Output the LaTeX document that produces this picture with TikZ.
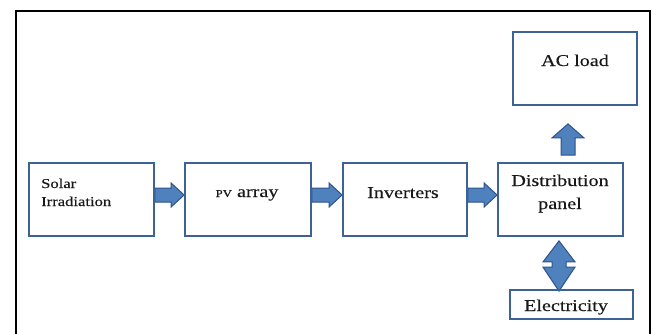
\documentclass[tikz,border=0pt]{standalone}
\usepackage{fontspec}
\setmainfont{Liberation Serif}[FakeStretch=1.22,FakeBold=0.3]
\usetikzlibrary{calc,backgrounds}
\definecolor{boxline}{RGB}{60,98,150}
\definecolor{arrowfill}{RGB}{79,129,189}
\definecolor{arrowline}{RGB}{47,82,143}
\definecolor{ink}{RGB}{25,25,25}
\tikzset{
  block/.style={draw=boxline, line width=1.8pt, minimum height=73pt, inner sep=0pt},
  blockarrow/.style={fill=arrowfill, draw=arrowline, line width=1pt, line join=miter},
  txt/.style={font=\fontsize{16.5}{19}\selectfont, text=ink, inner sep=0pt, anchor=base},
  smalltxt/.style={font=\fontsize{13.6}{16}\selectfont, text=ink, inner sep=0pt, anchor=base west},
  frame/.style={draw=black, line width=2pt}
}
% horizontal block arrow from the east side of #1 to the west side of #2
\newcommand\rightblock[2]{%
  \draw[blockarrow] ($(#1.east)+(0,-11.5)$) -- ($(#2.west)+(-13,-11.5)$)
    -- ($(#2.west)+(-13,-16.5)$) -- ($(#2.west)+(0,-4.5)$)
    -- ($(#2.west)+(-13,7.5)$) -- ($(#2.west)+(-13,2.5)$)
    -- ($(#1.east)+(0,2.5)$) -- cycle;}
\begin{document}
\begin{tikzpicture}[x=1pt,y=-1pt]
\useasboundingbox (0,0) rectangle (654,333);
% open outer frame
\draw[frame] (16,335) -- (16,11) -- (650,11) -- (650,335);

% blocks
\node[block, minimum width=125pt] (solar) at (91.5,199.5) {};
\node[block, minimum width=126pt] (pv) at (248,199.5) {};
\node[block, minimum width=124pt] (inv) at (405,199.5) {};
\node[block, minimum width=125pt] (dist) at (560.5,199.5) {};
\node[block, minimum width=124pt] (ac) at (575,68.5) {};
\node[block, minimum width=123pt, minimum height=29pt] (elec) at (571.5,304.5) {};

% labels
\node[smalltxt] (solarA) at (41,188) {Solar};
\node[smalltxt] (solarB) at (41,206) {Irradiation};
\node[txt] (pvT) at (247,197) {{\fontsize{10.5}{12}\selectfont PV} array};
\node[txt] (invT) at (403,198) {Inverters};
\node[txt] (distA) at (560,186) {Distribution};
\node[txt] (distB) at (560,209) {panel};
\node[txt] (acT) at (575,66) {AC load};
\node[txt] (elecT) at (566,311) {Electricity};

% block arrows
\begin{scope}[on background layer]
\rightblock{solar}{pv}
\rightblock{pv}{inv}
\rightblock{inv}{dist}
% upward arrow to the AC load
\draw[blockarrow] ($(dist.north)+(0.5,-7)$) -- ($(dist.north)+(14.5,-7)$)
  -- ($(dist.north |- ac.south)+(14.5,32)$) -- ($(dist.north |- ac.south)+(23.5,32)$)
  -- ($(dist.north |- ac.south)+(7.5,18)$)
  -- ($(dist.north |- ac.south)+(-8.5,32)$) -- ($(dist.north |- ac.south)+(0.5,32)$)
  -- cycle;
% two-way arrow between panel and grid electricity
\draw[blockarrow] ($(dist.south)+(-1.5,4)$) -- ($(dist.south)+(14.5,25)$)
  -- ($(dist.south)+(5.5,25)$) -- ($(dist.south |- elec.north)+(5.5,-22)$)
  -- ($(dist.south |- elec.north)+(14.5,-22)$) -- ($(dist.south |- elec.north)+(-1.5,2)$)
  -- ($(dist.south |- elec.north)+(-17.5,-22)$) -- ($(dist.south |- elec.north)+(-8.5,-22)$)
  -- ($(dist.south)+(-8.5,25)$) -- ($(dist.south)+(-17.5,25)$) -- cycle;
\end{scope}
\end{tikzpicture}
\end{document}
